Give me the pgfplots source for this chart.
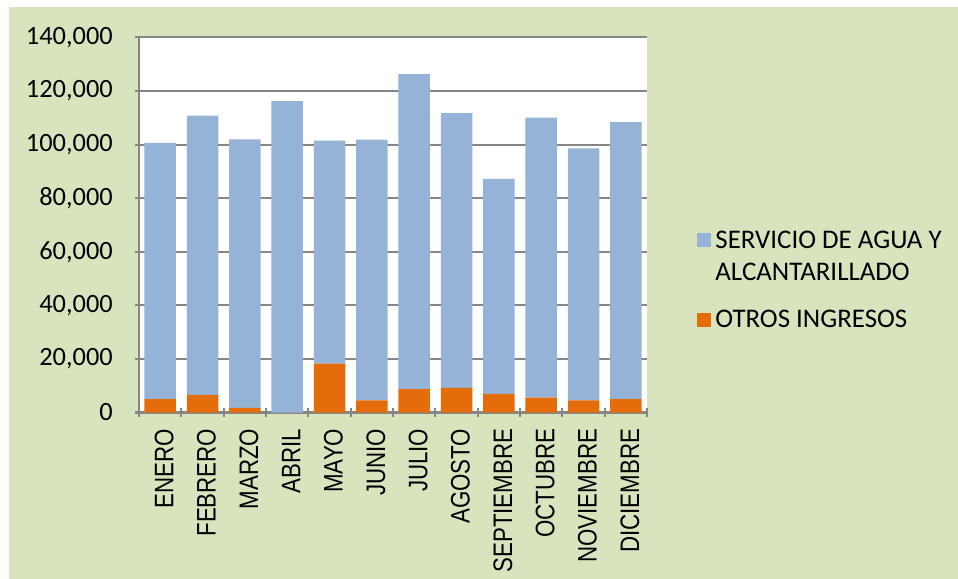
\documentclass[border=0pt]{standalone}
\usepackage{pgfplots}
\pgfplotsset{compat=1.18}
\usepackage{fontspec}
\setmainfont{Carlito}
\newfontfamily\arialf{Liberation Sans}

\definecolor{bgreen}{HTML}{D7E4BD}
\definecolor{sblue}{HTML}{95B3D7}
\definecolor{sorange}{HTML}{E46C0A}
\definecolor{gridg}{HTML}{868686}

\newcommand\ml[1]{\scalebox{1}[1.2]{#1}}

\begin{document}
\begin{tikzpicture}
\fill[white] (0,0) rectangle (958bp,579bp);
\fill[bgreen] (9bp,0) rectangle (958bp,572bp);
\begin{axis}[
  at={(139bp,166.5bp)}, anchor=south west,
  width=508bp, height=375bp, scale only axis,
  ybar stacked, bar width=31.5bp,
  xmin=-0.5, xmax=11.5,
  ymin=0, ymax=140000,
  ytick={0,20000,...,140000},
  xtick={0,...,11},
  xticklabels={\ml{ENERO},\ml{FEBRERO},\ml{MARZO},\ml{ABRIL},\ml{MAYO},\ml{JUNIO},\ml{JULIO},\ml{AGOSTO},\ml{SEPTIEMBRE},\ml{OCTUBRE},\ml{NOVIEMBRE},\ml{DICIEMBRE}},
  minor xtick={-0.5,0.5,...,11.5},
  major x tick style={draw=none},
  minor x tick style={draw=gridg, line width=2bp},
  y tick style={draw=gridg, line width=2bp},
  tick align=outside,
  major tick length=8bp, minor tick length=8bp,
  axis lines=left,
  axis line style={-, draw=gridg, line width=2bp},
  ymajorgrids,
  grid style={draw=gridg, line width=2bp},
  axis background/.style={fill=white},
  scaled y ticks=false,
  /pgf/number format/.cd, fixed, 1000 sep={,}, assume math mode=true,
  /pgfplots/.cd,
  yticklabel style={font=\fontsize{26.5}{30}\selectfont, inner sep=0pt, xshift=-22bp},
  xticklabel style={font=\arialf\fontsize{22.4}{26}\selectfont, rotate=90, anchor=east, inner sep=0pt, xshift=-12bp, yshift=-4bp},
  reverse legend,
  legend style={at={(1.092,0.509)}, anchor=north west, draw=none, fill=none,
    font=\fontsize{27}{32}\selectfont, row sep=16.5bp,
    nodes={text depth=},
    cells={anchor=base west}},
  legend image code/.code={\fill[#1] (0bp,1bp) rectangle (14.5bp,15bp);},
]
\addplot[fill=sorange, draw=none] coordinates {
 (0,5020) (1,6540) (2,1770) (3,0) (4,18240) (5,4530)
 (6,8680) (7,9180) (8,6920) (9,5540) (10,4530) (11,5020)};
\addlegendentry{\hspace{2bp}OTROS INGRESOS}
\addplot[fill=sblue, draw=none] coordinates {
 (0,95610) (1,104260) (2,100200) (3,116280) (4,83250) (5,97330)
 (6,117650) (7,102620) (8,80300) (9,104520) (10,94090) (11,103430)};
\addlegendentry{\hspace{2bp}\begin{tabular}[t]{@{}l@{}}SERVICIO DE AGUA Y\\ALCANTARILLADO\end{tabular}}
\end{axis}
\end{tikzpicture}
\end{document}
